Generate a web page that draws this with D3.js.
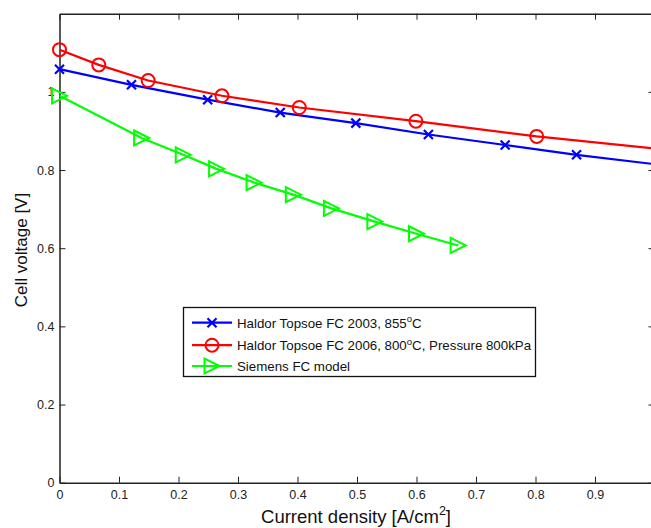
<!DOCTYPE html>
<html>
<head>
<meta charset="utf-8">
<script src="https://cdn.jsdelivr.net/npm/d3@7"></script>
<style>
  body { margin: 0; background: #fff; }
  svg { font-family: "Liberation Sans", Arial, sans-serif; }
</style>
</head>
<body>
<div id="chart"></div>
<script>
"use strict";

// Series: current density [A/cm2] vs cell voltage [V].
const topsoe2003_x = [0, 0.121, 0.249, 0.371, 0.498, 0.620, 0.749, 0.869, 1.0];
const topsoe2003_y = [1.058, 1.018, 0.980, 0.947, 0.920, 0.891, 0.864, 0.839, 0.815];
const topsoe2003_markers = 8; // last point only continues the line

const topsoe2006_x = [0, 0.066, 0.149, 0.273, 0.403, 0.599, 0.802, 1.0];
const topsoe2006_y = [1.108, 1.069, 1.029, 0.990, 0.960, 0.925, 0.886, 0.855];
const topsoe2006_markers = 7;

const siemens_x = [0, 0.138, 0.208, 0.264, 0.327, 0.393, 0.457, 0.530, 0.600, 0.670];
const siemens_y = [0.990, 0.882, 0.839, 0.803, 0.768, 0.737, 0.702, 0.668, 0.637, 0.607];
const siemens_markers = 10;

const x_ticks = [0, 0.1, 0.2, 0.3, 0.4, 0.5, 0.6, 0.7, 0.8, 0.9];
const y_ticks = [0, 0.2, 0.4, 0.6, 0.8, 1];

const series = [
    {name: "Haldor Topsoe FC 2003, 855", sup: "o", tail: "C", xs: topsoe2003_x, ys: topsoe2003_y, n: topsoe2003_markers, color: "#0000ff", marker: "x"},
    {name: "Haldor Topsoe FC 2006, 800", sup: "o", tail: "C, Pressure 800kPa", xs: topsoe2006_x, ys: topsoe2006_y, n: topsoe2006_markers, color: "#ff0000", marker: "o"},
    {name: "Siemens FC model", sup: "", tail: "", xs: siemens_x, ys: siemens_y, n: siemens_markers, color: "#00ff00", marker: ">"}
];

const width = 651, height = 528;
const margin = {top: 13.7, right: -3.5, bottom: 45.3, left: 59.5};

const svg = d3.select("#chart").append("svg")
    .attr("width", width)
    .attr("height", height);

const x = d3.scaleLinear().domain([0, 1]).range([margin.left, width - margin.right]);
const y = d3.scaleLinear().domain([0, 1.2]).range([height - margin.bottom, margin.top]);

// Clip lines to the axes box.
svg.append("clipPath").attr("id", "plot_clip")
    .append("rect")
        .attr("x", x(0)).attr("y", y(1.2))
        .attr("width", x(1) - x(0)).attr("height", y(0) - y(1.2));

// Ticks point inwards on all four sides, like MATLAB.
const axis_color = "#222";
const tick_len = 6;

const xb = svg.append("g").attr("transform", `translate(0,${y(0)})`)
    .call(d3.axisBottom(x).tickValues(x_ticks).tickSizeInner(-tick_len).tickSizeOuter(0).tickPadding(7).tickFormat(d3.format("")));
const xt = svg.append("g").attr("transform", `translate(0,${y(1.2)})`)
    .call(d3.axisTop(x).tickValues(x_ticks).tickSizeInner(-tick_len).tickSizeOuter(0).tickFormat(""));
const yl = svg.append("g").attr("transform", `translate(${x(0)},0)`)
    .call(d3.axisLeft(y).tickValues(y_ticks).tickSizeInner(-tick_len).tickSizeOuter(0).tickPadding(5).tickFormat(d3.format("")));
const yr = svg.append("g").attr("transform", `translate(${x(1)},0)`)
    .call(d3.axisRight(y).tickValues(y_ticks).tickSizeInner(-tick_len).tickSizeOuter(0).tickFormat(""));

[xb, xt, yl, yr].forEach(function(g) {
    g.select(".domain").attr("stroke", axis_color).attr("stroke-width", 1.5);
    g.selectAll(".tick line").attr("stroke", axis_color).attr("stroke-width", 1);
    g.selectAll(".tick text").attr("fill", "#222").style("font-size", "12.5px");
});

// Axis labels.
const xlabel = svg.append("text")
    .attr("x", 356).attr("y", 523)
    .attr("text-anchor", "middle")
    .style("font-size", "18.5px").attr("fill", "#111")
    .text("Current density [A/cm");
xlabel.append("tspan").attr("dy", -8).style("font-size", "12.5px").text("2");
xlabel.append("tspan").attr("dy", 8).text("]");

svg.append("text")
    .attr("transform", `translate(27,250) rotate(-90)`)
    .attr("text-anchor", "middle")
    .style("font-size", "17px").attr("fill", "#111")
    .text("Cell voltage [V]");

// Marker shapes.
function draw_marker(g, kind, color, cx, cy) {
    if (kind === "x") {
        const s = 4.5;
        g.append("path")
            .attr("d", `M${cx - s},${cy - s}L${cx + s},${cy + s}M${cx - s},${cy + s}L${cx + s},${cy - s}`)
            .attr("stroke", color).attr("stroke-width", 2.2).attr("fill", "none");
    } else if (kind === "o") {
        g.append("circle")
            .attr("cx", cx).attr("cy", cy).attr("r", 6.5)
            .attr("stroke", color).attr("stroke-width", 2).attr("fill", "none");
    } else {
        const s = 7.5;
        g.append("path")
            .attr("d", `M${cx + s},${cy}L${cx - s},${cy - s}L${cx - s},${cy + s}Z`)
            .attr("stroke", color).attr("stroke-width", 2).attr("fill", "none");
    }
}

const line = d3.line().x(function(d) { return x(d[0]); }).y(function(d) { return y(d[1]); });

series.forEach(function(s) {
    const pts = s.xs.map(function(v, i) { return [v, s.ys[i]]; });
    const g = svg.append("g").attr("clip-path", "url(#plot_clip)");
    g.append("path")
        .datum(pts)
        .attr("d", line)
        .attr("fill", "none")
        .attr("stroke", s.color)
        .attr("stroke-width", 2.2);
    const mg = svg.append("g");
    pts.slice(0, s.n).forEach(function(p) {
        draw_marker(mg, s.marker, s.color, x(p[0]), y(p[1]));
    });
});

// Legend.
const legend = svg.append("g");
legend.append("rect")
    .attr("x", 183.5).attr("y", 307.5)
    .attr("width", 352).attr("height", 69)
    .attr("fill", "#fff").attr("stroke", "#111").attr("stroke-width", 1.3);

series.forEach(function(s, i) {
    const ly = [322.7, 345.2, 366][i];
    legend.append("line")
        .attr("x1", 192).attr("x2", 232).attr("y1", ly).attr("y2", ly)
        .attr("stroke", s.color).attr("stroke-width", 2.2);
    draw_marker(legend, s.marker, s.color, 212, ly);
    const t = legend.append("text")
        .attr("x", 237).attr("y", ly + 5)
        .style("font-size", "13.3px").attr("fill", "#111")
        .text(s.name);
    if (s.sup) {
        t.append("tspan").attr("dy", -5.5).style("font-size", "9.5px").text(s.sup);
        t.append("tspan").attr("dy", 5.5).text(s.tail);
    }
});
</script>
</body>
</html>
